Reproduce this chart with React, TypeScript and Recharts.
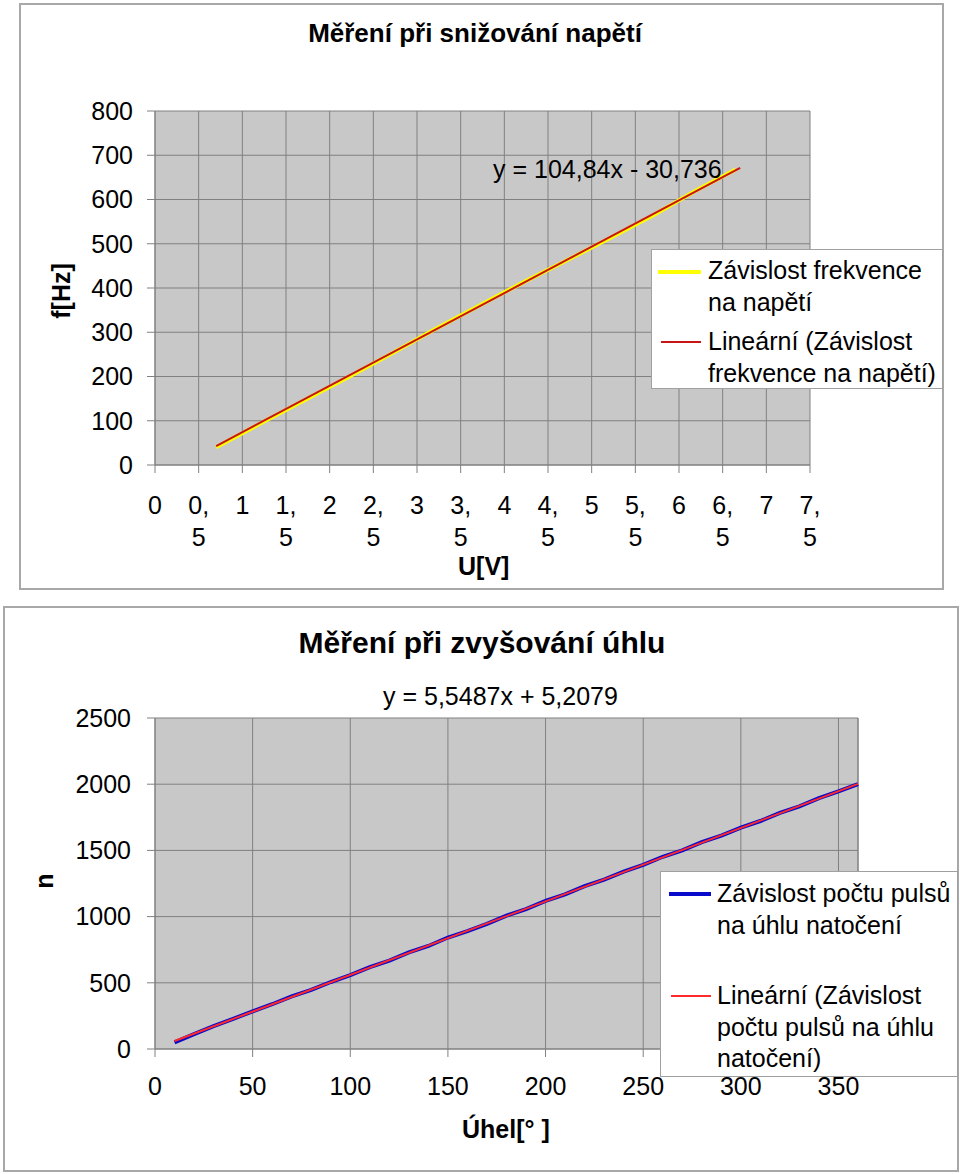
import React from "react"
import { LineChart, Line, XAxis, YAxis, CartesianGrid, ReferenceLine } from "recharts"

const FONT = '"Liberation Sans", Arial, sans-serif'

// graf 1 - snizovani napeti
const napeti = [0.7, 1.2, 1.7, 2.2, 2.7, 3.2, 3.7, 4.2, 4.7, 5.2, 5.7, 6.2, 6.65]
const frekvence = [40, 93, 145, 197, 251, 306, 359, 411, 461, 512, 564, 621, 668]
const trendNapetiX = [0.7, 6.7]
const trendNapetiY = [42.7, 671.7]
const ticksU = [0, 0.5, 1, 1.5, 2, 2.5, 3, 3.5, 4, 4.5, 5, 5.5, 6, 6.5, 7, 7.5]
const ticksF = [0, 100, 200, 300, 400, 500, 600, 700, 800]

// graf 2 - zvysovani uhlu
const uhel = [10, 20, 30, 40, 50, 60, 70, 80, 90, 100, 110, 120, 130, 140, 150, 160, 170, 180, 190, 200, 210, 220, 230, 240, 250, 260, 270, 280, 290, 300, 310, 320, 330, 340, 350, 360]
const pulsy = [50, 112, 172, 228, 285, 338, 398, 447, 506, 558, 618, 668, 730, 778, 842, 890, 945, 1008, 1057, 1118, 1168, 1230, 1279, 1340, 1390, 1452, 1500, 1562, 1612, 1672, 1722, 1784, 1832, 1894, 1945, 2000]
const trendUhelX = [10, 360]
const trendUhelY = [60.7, 2002.7]
const ticksUhel = [0, 50, 100, 150, 200, 250, 300, 350]
const ticksN = [0, 500, 1000, 1500, 2000, 2500]

const zip = (xs: number[], ys: number[]) => xs.map((x, i) => ({ x, y: ys[i] }))

const dataF = zip(napeti, frekvence)
const dataTrendF = zip(trendNapetiX, trendNapetiY)
const dataN = zip(uhel, pulsy)
const dataTrendN = zip(trendUhelX, trendUhelY)

const GRID = "#808080"
const PLOT_BG = "#C8C8C8"

function UTick({ x, y, payload }: any) {
  const s = String(payload.value).replace(".", ",")
  const parts = s.includes(",") ? [s.split(",")[0] + ",", s.split(",")[1]] : [s]
  return (
    <text x={x} y={y} textAnchor="middle" fontSize={25} fill="#000" fontFamily={FONT}>
      <tspan x={x} dy={39}>{parts[0]}</tspan>
      {parts[1] && <tspan x={x} dy={32}>{parts[1]}</tspan>}
    </text>
  )
}

const abs = (style: React.CSSProperties): React.CSSProperties => ({ position: "absolute", boxSizing: "border-box", ...style })

const txt: React.CSSProperties = { fontFamily: FONT, fontSize: 25, color: "#000", whiteSpace: "nowrap", lineHeight: "31.5px" }

export default function App() {
  return (
    <div style={{ position: "absolute", left: 0, top: 0, width: 960, height: 1174, overflow: "hidden", background: "#fff" }}>
      {/* ramecky */}
      <div style={abs({ left: 19, top: 3, width: 925, height: 587, border: "2px solid #A8A8A8" })} />
      <div style={abs({ left: 3, top: 606, width: 956, height: 566, border: "2px solid #A8A8A8" })} />

      <div style={abs({ left: 0, top: 0 })}>
        <LineChart width={960} height={600} margin={{ top: 111, right: 150, bottom: 65, left: 95 }} style={{ fontFamily: FONT }}>
          <CartesianGrid stroke={GRID} fill={PLOT_BG} strokeWidth={1} />
          <XAxis
            type="number"
            dataKey="x"
            domain={[0, 7.5]}
            ticks={ticksU}
            interval={0}
            tickSize={8}
            height={70}
            stroke={GRID}
            tick={<UTick />}
          />
          <YAxis
            type="number"
            dataKey="y"
            domain={[0, 800]}
            ticks={ticksF}
            interval={0}
            width={60}
            tickSize={8}
            tickMargin={14}
            stroke={GRID}
            tick={{ fontSize: 25, fill: "#000", fontFamily: FONT }}
          />
          <Line data={dataF} dataKey="y" type="linear" stroke="#FFFF00" strokeWidth={4} dot={false} isAnimationActive={false} />
          <Line data={dataTrendF} dataKey="y" type="linear" stroke="#C81414" strokeWidth={2} dot={false} isAnimationActive={false} />
        </LineChart>
      </div>

      <div style={abs({ left: 0, top: 600 })}>
        <LineChart width={960} height={580} margin={{ top: 118, right: 102, bottom: 71, left: 95 }} style={{ fontFamily: FONT }}>
          <CartesianGrid stroke={GRID} fill={PLOT_BG} strokeWidth={1} />
          <XAxis
            type="number"
            dataKey="x"
            domain={[0, 360]}
            ticks={ticksUhel}
            interval={0}
            tickSize={8}
            tickMargin={20}
            height={60}
            stroke={GRID}
            tick={{ fontSize: 25, fill: "#000", fontFamily: FONT }}
          />
          <YAxis
            type="number"
            dataKey="y"
            domain={[0, 2500]}
            ticks={ticksN}
            interval={0}
            width={60}
            tickSize={8}
            tickMargin={16}
            stroke={GRID}
            tick={{ fontSize: 25, fill: "#000", fontFamily: FONT }}
          />
          <ReferenceLine x={360} stroke={GRID} />
          <Line data={dataN} dataKey="y" type="linear" stroke="#0A0ACC" strokeWidth={4} dot={false} isAnimationActive={false} />
          <Line data={dataTrendN} dataKey="y" type="linear" stroke="#FF2A2A" strokeWidth={2} dot={false} isAnimationActive={false} />
        </LineChart>
      </div>

      {/* texty grafu 1 */}
      <div style={abs({ left: 0, width: 950, top: 18, textAlign: "center", fontFamily: FONT, fontWeight: "bold", fontSize: 26 })}>
        Měření při snižování napětí
      </div>
      <div style={abs({ ...txt, left: 493, top: 154 })}>y = 104,84x - 30,736</div>
      <div style={abs({ ...txt, left: 458, top: 551, fontWeight: "bold" })}>U[V]</div>
      <div style={abs({ ...txt, left: 62, top: 291, fontWeight: "bold", transform: "translate(-50%, -50%) rotate(-90deg)" })}>f[Hz]</div>

      <div style={abs({ left: 651, top: 249, width: 292, height: 140, background: "#fff", border: "1px solid #A0A0A0" })}>
        <div style={abs({ left: 6, top: 20, width: 43, height: 4, background: "#FFFF00" })} />
        <div style={abs({ ...txt, left: 56, top: 5 })}>Závislost frekvence<br />na napětí</div>
        <div style={abs({ left: 9, top: 91, width: 40, height: 2, background: "#C81414" })} />
        <div style={abs({ ...txt, left: 56, top: 76 })}>Lineární (Závislost<br />frekvence na napětí)</div>
      </div>

      {/* texty grafu 2 */}
      <div style={abs({ left: 0, width: 964, top: 626, textAlign: "center", fontFamily: FONT, fontWeight: "bold", fontSize: 30 })}>
        Měření při zvyšování úhlu
      </div>
      <div style={abs({ ...txt, left: 383, top: 681 })}>y = 5,5487x + 5,2079</div>
      <div style={abs({ ...txt, left: 462, top: 1114, fontWeight: "bold" })}>Úhel[° ]</div>
      <div style={abs({ ...txt, left: 45, top: 881, fontWeight: "bold", transform: "translate(-50%, -50%) rotate(-90deg)" })}>n</div>

      <div style={abs({ left: 660, top: 871, width: 298, height: 206, background: "#fff", border: "1px solid #A0A0A0" })}>
        <div style={abs({ left: 8, top: 20, width: 42, height: 4, background: "#0A0ACC" })} />
        <div style={abs({ ...txt, left: 56, top: 6 })}>Závislost počtu pulsů<br />na úhlu natočení</div>
        <div style={abs({ left: 10, top: 123, width: 40, height: 2, background: "#FF2A2A" })} />
        <div style={abs({ ...txt, left: 56, top: 108 })}>Lineární (Závislost<br />počtu pulsů na úhlu<br />natočení)</div>
      </div>
    </div>
  )
}
